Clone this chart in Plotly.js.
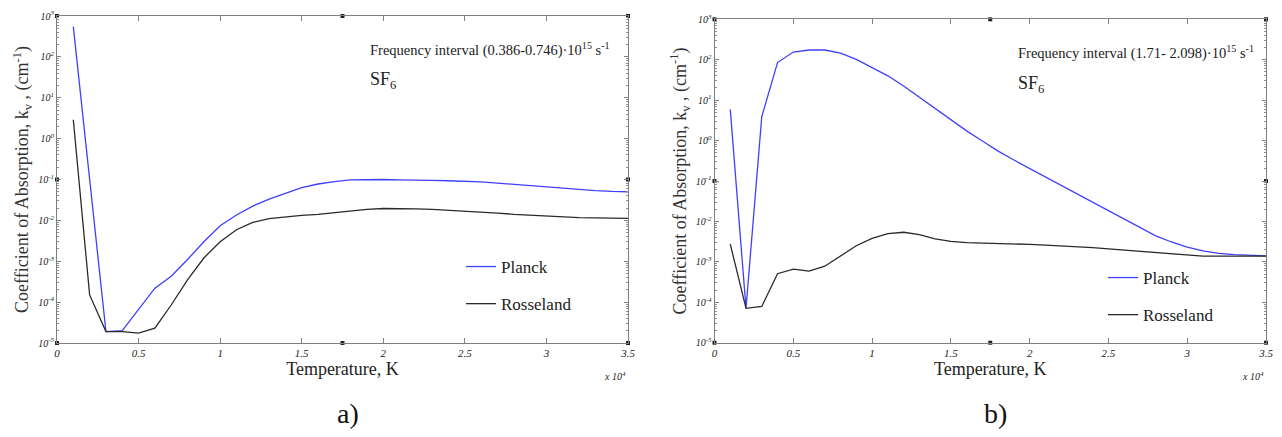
<!DOCTYPE html>
<html>
<head>
<meta charset="utf-8">
<script src="https://cdn.plot.ly/plotly-3.0.1.min.js"></script>
<style>
html,body{margin:0;padding:0;background:#fff;}
#chart{width:1282px;height:437px;}
</style>
</head>
<body>
<div id="chart"></div>
<script>
// Temperature, K
const temperature = [1000,2000,3000,4000,5000,6000,7000,8000,9000,10000,
  11000,12000,13000,14000,15000,16000,17000,18000,19000,20000,
  21000,22000,23000,24000,25000,26000,27000,28000,29000,30000,
  31000,32000,33000,34000,35000];

// a) Frequency interval (0.386-0.746)·10^15 s^-1
const planckA = [550,0.12,1.9e-5,2.0e-5,6.6e-5,2.2e-4,4.3e-4,1.1e-3,3.0e-3,7.4e-3,
  0.0135,0.0224,0.033,0.0457,0.063,0.0776,0.089,0.0977,0.100,0.100,
  0.0977,0.0977,0.0955,0.0933,0.0912,0.0871,0.0813,0.0759,0.0692,0.0646,
  0.0603,0.0562,0.0537,0.0513,0.0501];
const rosselandA = [2.9,1.5e-4,1.9e-5,1.9e-5,1.74e-5,2.3e-5,8.5e-5,3.5e-4,1.2e-3,3.0e-3,
  5.9e-3,8.9e-3,0.011,0.0123,0.0132,0.0141,0.0155,0.017,0.0186,0.0195,
  0.0195,0.0191,0.0186,0.0178,0.017,0.0162,0.0151,0.0141,0.0135,0.0126,
  0.012,0.0117,0.0115,0.0112,0.0112];

// b) Frequency interval (1.71- 2.098)·10^15 s^-1
const planckB = [5.9,7.1e-5,3.9,85,155,174,174,145,102,65,
  40,22.4,11.7,6.2,3.2,1.74,0.98,0.55,0.33,0.204,
  0.126,0.076,0.047,0.0295,0.0186,0.0112,0.0068,0.0044,0.0031,0.0023,
  0.00186,0.00162,0.00151,0.00145,0.00141];
const rosselandB = [2.75e-3,7.1e-5,7.9e-5,5.1e-4,6.6e-4,5.9e-4,7.8e-4,1.38e-3,2.5e-3,3.8e-3,
  5.0e-3,5.4e-3,4.7e-3,3.7e-3,3.2e-3,3.0e-3,2.95e-3,2.9e-3,2.75e-3,2.7e-3,
  2.6e-3,2.5e-3,2.4e-3,2.24e-3,2.1e-3,1.95e-3,1.8e-3,1.66e-3,1.55e-3,1.45e-3,
  1.38e-3,1.38e-3,1.38e-3,1.38e-3,1.38e-3];

// axis ticks
const xTickVals = [0,5000,10000,15000,20000,25000,30000,35000];
const xTickText = ['0','0.5','1','1.5','2','2.5','3','3.5'];
const yTickVals = [1e-5,1e-4,1e-3,1e-2,1e-1,1e0,1e1,1e2,1e3];
const yTickText = ['10<sup>-5</sup>','10<sup>-4</sup>','10<sup>-3</sup>','10<sup>-2</sup>','10<sup>-1</sup>','10<sup>0</sup>','10<sup>1</sup>','10<sup>2</sup>','10<sup>3</sup>'];

// frame marker positions (corners and mid-points of the box)
const frameMarkX = [0,17500,35000,0,35000,0,17500,35000];
const frameMarkY = [1e3,1e3,1e3,0.1,0.1,1e-5,1e-5,1e-5];

const seriesNames = ['Planck','Rosseland'];
const seriesColors = ['#3f3fff','#2a2a2a'];

const W = 1282, H = 437;
const px = x => x / W;
const py = y => 1 - y / H;
const SERIF = 'Liberation Serif';

function lineTrace(x, y, name, color, xa, ya, legendId, group) {
  return {x: x, y: y, name: name, type: 'scatter', mode: 'lines',
    line: {color: color, width: 1.3}, xaxis: xa, yaxis: ya,
    legend: legendId, legendgroup: group, hoverinfo: 'x+y+name'};
}
function markTrace(xa, ya) {
  return {x: frameMarkX, y: frameMarkY, type: 'scatter', mode: 'markers',
    marker: {symbol: 'square', size: 4, color: '#222'}, xaxis: xa, yaxis: ya,
    showlegend: false, cliponaxis: false, hoverinfo: 'skip'};
}

const data = [
  lineTrace(temperature, planckA, seriesNames[0], seriesColors[0], 'x', 'y', 'legend', 'p'),
  lineTrace(temperature, rosselandA, seriesNames[1], seriesColors[1], 'x', 'y', 'legend', 'r'),
  lineTrace(temperature, planckB, seriesNames[0], seriesColors[0], 'x2', 'y2', 'legend2', 'p2'),
  lineTrace(temperature, rosselandB, seriesNames[1], seriesColors[1], 'x2', 'y2', 'legend2', 'r2'),
  markTrace('x', 'y'),
  markTrace('x2', 'y2')
];

function xAxis(domain, anchor) {
  return {domain: domain, anchor: anchor, range: [0, 35000], tickmode: 'array',
    tickvals: xTickVals, ticktext: xTickText, ticks: 'inside', ticklen: 5,
    tickcolor: '#808080', showline: true, linecolor: '#808080', linewidth: 1,
    mirror: 'ticks', showgrid: false, zeroline: false,
    tickfont: {family: SERIF, size: 11, color: '#222', style: 'italic'},
    title: {text: 'Temperature, K', font: {family: SERIF, size: 18, color: '#222'}, standoff: 0}};
}
function yAxis(domain, anchor) {
  return {domain: domain, anchor: anchor, type: 'log', range: [-5, 3], tickmode: 'array',
    tickvals: yTickVals, ticktext: yTickText, ticks: 'inside', ticklen: 4,
    tickcolor: '#808080', showline: true, linecolor: '#808080', linewidth: 1,
    mirror: 'ticks', showgrid: false, zeroline: false,
    minor: {ticks: 'inside', ticklen: 2, tickcolor: '#909090', dtick: 'D1', showgrid: false},
    tickfont: {family: SERIF, size: 10, color: '#222', style: 'italic'},
    title: {text: 'Coefficient of Absorption, k<sub>v</sub> , (cm<sup>-1</sup>)',
      font: {family: SERIF, size: 18, color: '#333'}, standoff: 4}};
}

function legendBox(xpx, ypx) {
  return {x: px(xpx), y: py(ypx), xanchor: 'left', yanchor: 'top',
    bgcolor: 'rgba(0,0,0,0)', borderwidth: 0, tracegroupgap: 12,
    font: {family: SERIF, size: 17, color: '#222'}, itemwidth: 30};
}

const annFont = {family: SERIF, size: 14.5, color: '#222'};
const sfFont = {family: SERIF, size: 18, color: '#222'};
const layout = {
  width: W, height: H, margin: {l: 0, r: 0, t: 0, b: 0},
  paper_bgcolor: '#fff', plot_bgcolor: '#fff',
  font: {family: SERIF},
  showlegend: true,
  xaxis: xAxis([px(57), px(628)], 'y'),
  yaxis: yAxis([py(343), py(16)], 'x'),
  xaxis2: xAxis([px(714.5), px(1266)], 'y2'),
  yaxis2: yAxis([py(342.7), py(19.3)], 'x2'),
  legend: legendBox(461, 249),
  legend2: legendBox(1103, 260),
  annotations: [
    {xref: 'paper', yref: 'paper', x: px(368), y: py(50), xanchor: 'left', yanchor: 'middle', showarrow: false,
     text: 'Frequency interval (0.386-0.746)·10<sup>15</sup> s<sup>-1</sup>', font: annFont},
    {xref: 'paper', yref: 'paper', x: px(368), y: py(81), xanchor: 'left', yanchor: 'middle', showarrow: false,
     text: 'SF<sub>6</sub>', font: sfFont},
    {xref: 'paper', yref: 'paper', x: px(1016), y: py(53), xanchor: 'left', yanchor: 'middle', showarrow: false,
     text: 'Frequency interval (1.71- 2.098)·10<sup>15</sup> s<sup>-1</sup>', font: annFont},
    {xref: 'paper', yref: 'paper', x: px(1016), y: py(84), xanchor: 'left', yanchor: 'middle', showarrow: false,
     text: 'SF<sub>6</sub>', font: sfFont},
    {xref: 'paper', yref: 'paper', x: px(628), y: py(376), xanchor: 'right', yanchor: 'middle', showarrow: false,
     text: 'x 10<sup>4</sup>', font: {family: SERIF, size: 10, color: '#222', style: 'italic'}},
    {xref: 'paper', yref: 'paper', x: px(1266), y: py(376), xanchor: 'right', yanchor: 'middle', showarrow: false,
     text: 'x 10<sup>4</sup>', font: {family: SERIF, size: 10, color: '#222', style: 'italic'}},
    {xref: 'paper', yref: 'paper', x: px(348), y: py(413), xanchor: 'center', yanchor: 'middle', showarrow: false,
     text: 'a)', font: {family: SERIF, size: 28, color: '#111'}},
    {xref: 'paper', yref: 'paper', x: px(995), y: py(413), xanchor: 'center', yanchor: 'middle', showarrow: false,
     text: 'b)', font: {family: SERIF, size: 28, color: '#111'}}
  ]
};

Plotly.newPlot('chart', data, layout, {displayModeBar: false});
</script>
</body>
</html>
